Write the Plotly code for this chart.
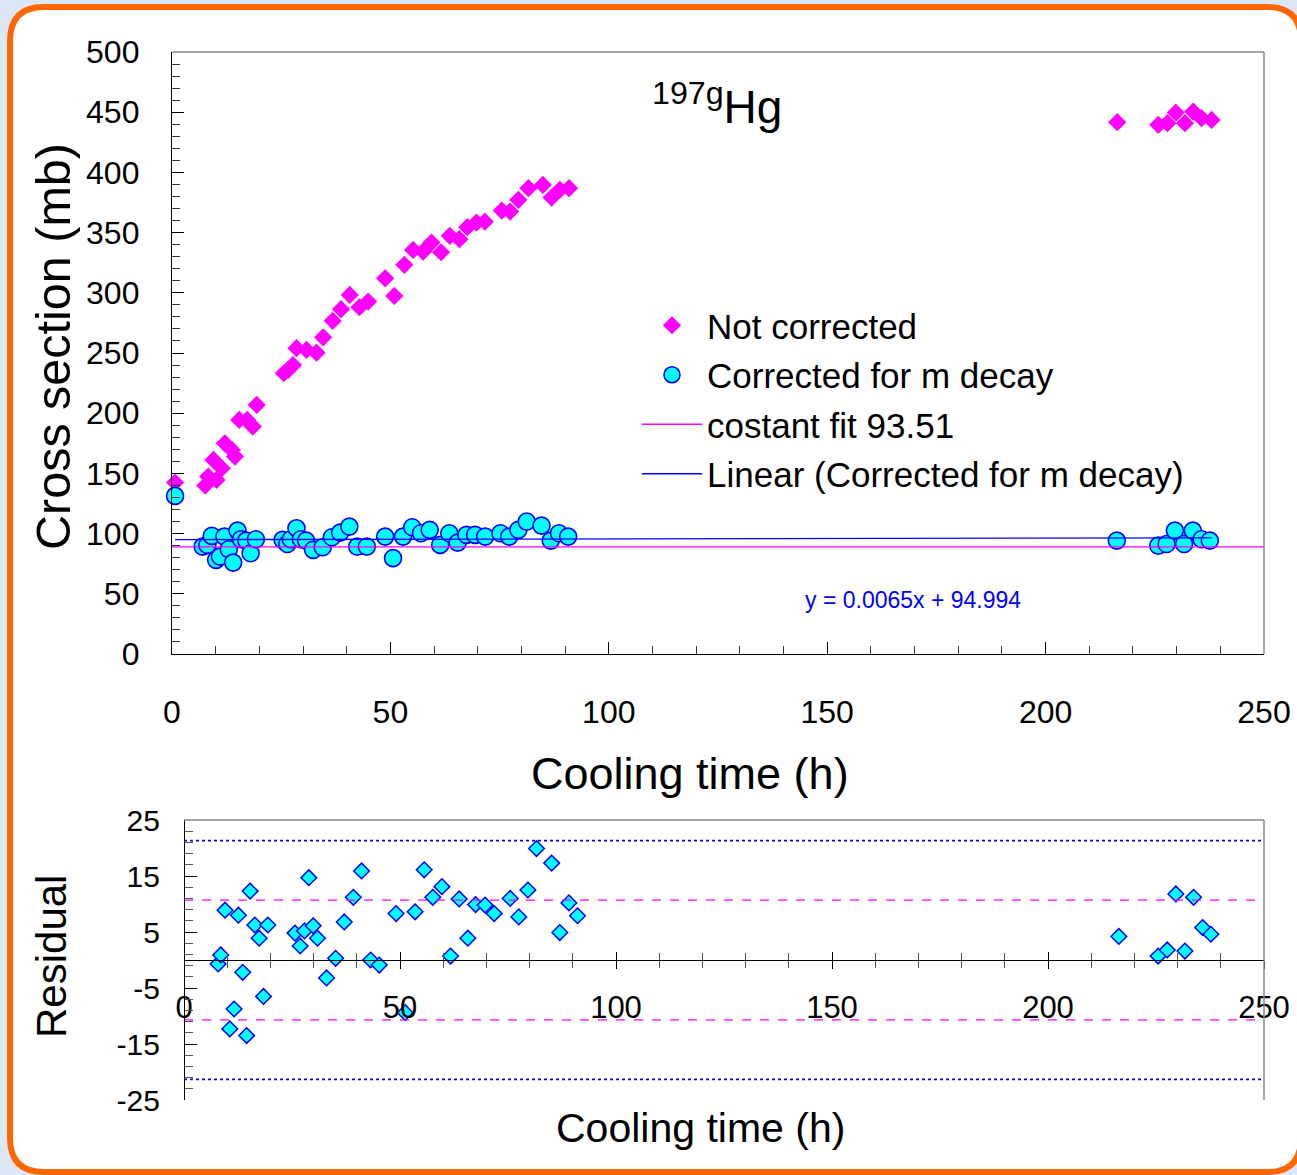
import plotly.graph_objects as go

W, H = 1297, 1175


def px(x):
    return x / W


def py(y):
    return 1 - y / H


# ---------------- data ----------------
nc_x = [0.7, 7.6, 8.3, 9.5, 10.2, 11.4, 12.1, 13.7, 14.4, 15.4, 17.2, 18.5, 19.4,
        25.6, 26.6, 27.7, 28.5, 30.8, 33.1, 34.6, 36.8, 38.7, 40.7, 42.9, 44.9,
        48.8, 50.9, 53.2, 55.2, 57.5, 59.4, 61.6, 63.6, 65.8, 67.6, 69.7, 71.6,
        75.5, 77.4, 79.3, 81.6, 84.9, 86.9, 88.8, 90.9,
        216.4, 225.8, 227.9, 229.8, 231.9, 233.8, 235.7, 238.0]
nc_y = [142.4, 139.9, 147.4, 161.2, 144.6, 154.3, 175.0, 169.5, 164.0, 194.4, 194.4, 188.9, 206.9,
        233.2, 236.0, 240.0, 254.0, 252.6, 250.3, 263.0, 276.7, 286.4, 298.2, 288.0, 292.7,
        312.0, 297.4, 323.2, 335.6, 334.2, 341.7, 333.7, 347.3, 344.5, 354.5, 358.3, 359.1,
        368.3, 367.5, 377.2, 386.9, 389.6, 379.1, 385.5, 386.9,
        441.7, 439.5, 440.9, 449.7, 440.9, 450.5, 445.0, 443.6]

cor_x = [0.7, 7.0, 8.1, 9.1, 10.1, 11.0, 12.0, 13.0, 14.0, 15.0, 15.8, 17.0, 18.0, 19.2,
         25.3, 26.4, 27.2, 28.5, 29.5, 30.7, 32.3, 34.5, 36.6, 38.5, 40.6, 42.4, 44.6,
         48.8, 50.6, 52.9, 55.0, 57.0, 59.0, 61.4, 63.5, 65.4, 67.4, 69.4, 71.7,
         75.2, 77.2, 79.3, 81.2, 84.6, 86.7, 88.6, 90.7,
         216.3, 225.8, 227.7, 229.6, 231.7, 233.7, 235.7, 237.6]
cor_y = [131.3, 89.2, 90.6, 98.1, 78.2, 80.9, 97.5, 87.0, 75.9, 102.5, 95.3, 94.2, 83.7, 95.3,
         94.8, 91.4, 95.3, 104.5, 95.3, 94.2, 86.5, 88.7, 97.0, 100.8, 105.8, 89.2, 89.2,
         97.5, 79.6, 97.5, 105.3, 100.3, 103.1, 90.6, 100.3, 92.5, 98.9, 98.9, 97.5,
         100.3, 97.5, 103.1, 110.0, 106.6, 94.2, 100.3, 97.5,
         94.2, 90.0, 91.4, 102.5, 91.4, 102.5, 95.3, 94.2]

const_x = [0, 250]
const_y = [89.0, 89.0]          # drawn position of "costant fit 93.51"
fit_x = [0.7, 238.0]
fit_y = [95.0, 96.5]            # y = 0.0065x + 94.994

res_x = [7.9, 8.5, 9.5, 10.6, 11.6, 12.6, 13.6, 14.5, 15.3, 16.4, 17.4, 18.4, 19.4,
         25.7, 26.9, 27.9, 28.9, 29.9, 30.9, 33.0, 35.1, 37.1, 39.2, 41.1, 43.2, 45.2,
         49.1, 51.2, 53.5, 55.6, 57.6, 59.7, 61.7, 63.7, 65.7, 67.5, 69.7, 71.8,
         75.5, 77.5, 79.6, 81.6, 85.1, 87.0, 89.1, 91.1,
         216.4, 225.5, 227.6, 229.6, 231.7, 233.7, 235.8, 237.7]
res_y = [-0.7, 0.9, 8.9, -12.3, -8.75, 8.0, -2.2, -13.5, 12.3, 6.25, 3.9, -6.5, 6.25,
         4.8, 2.5, 5.2, 14.7, 6.1, 3.9, -3.2, 0.3, 6.8, 11.2, 15.9, 0.0, -0.9,
         8.3, -9.4, 8.6, 16.1, 11.2, 13.1, 0.7, 10.9, 3.9, 9.9, 9.8, 8.3,
         11.0, 7.7, 12.5, 19.9, 17.3, 4.9, 10.2, 7.9,
         4.2, 0.7, 1.8, 11.8, 1.6, 11.2, 5.8, 4.6]

band_x = [0, 250]
sigma1 = 10.7
sigma2 = 21.3

x_ticks = [0, 50, 100, 150, 200, 250]
res_ticks = [-25, -15, -5, 5, 15, 25]
res_tick_text = ["-25", "-15", "-5", "5", "15", "25"]

FONT = "Arial, Liberation Sans, sans-serif"
MAG = "#FF00FF"
CYAN = "#00FFFF"
BLUE = "#0000FF"

fig = go.Figure()

# ---------------- top panel ----------------
fig.add_trace(go.Scatter(
    x=nc_x, y=nc_y, mode="markers", name="Not corrected",
    marker=dict(symbol="diamond", size=14, color=MAG, line=dict(width=0)),
    cliponaxis=False, legendgroup="a", xaxis="x", yaxis="y"))
fig.add_trace(go.Scatter(
    x=cor_x, y=cor_y, mode="markers", name="Corrected for m decay",
    marker=dict(symbol="circle", size=17, color=CYAN, line=dict(width=1.6, color=BLUE)),
    cliponaxis=False, legendgroup="b", xaxis="x", yaxis="y"))
fig.add_trace(go.Scatter(
    x=const_x, y=const_y, mode="lines", name="costant fit 93.51",
    line=dict(color=MAG, width=1.3), legendgroup="c", xaxis="x", yaxis="y"))
fig.add_trace(go.Scatter(
    x=fit_x, y=fit_y, mode="lines", name="Linear (Corrected for m decay)",
    line=dict(color=BLUE, width=1.3), legendgroup="d", xaxis="x", yaxis="y"))

# ---------------- residual panel ----------------
for sgn in (1, -1):
    fig.add_trace(go.Scatter(
        x=band_x, y=[sgn * sigma1] * 2, mode="lines", showlegend=False,
        line=dict(color=MAG, width=1.2, dash="dash"), xaxis="x3", yaxis="y2"))
    fig.add_trace(go.Scatter(
        x=band_x, y=[sgn * sigma2] * 2, mode="lines", showlegend=False,
        line=dict(color=BLUE, width=1.8, dash="dot"), xaxis="x3", yaxis="y2"))
fig.add_trace(go.Scatter(
    x=res_x, y=res_y, mode="markers", showlegend=False,
    marker=dict(symbol="diamond", size=12, color=CYAN, line=dict(width=1.5, color=BLUE)),
    cliponaxis=False, xaxis="x2", yaxis="y2"))

axis_common = dict(showgrid=False, zeroline=False, showline=True, linecolor="black",
                   linewidth=1.3, tickcolor="black", tickwidth=1.3, automargin=False,
                   tickfont=dict(family=FONT, size=32, color="black"))

fig.update_layout(
    width=W, height=H,
    margin=dict(l=0, r=0, t=0, b=0, pad=0, autoexpand=False),
    paper_bgcolor="#dbe7f4",
    plot_bgcolor="rgba(0,0,0,0)",
    font=dict(family=FONT, color="black"),
    xaxis=dict(domain=[px(172), px(1264)], range=[0, 250], anchor="y",
               tickvals=x_ticks, ticks="inside", ticklen=12,
               minor=dict(dtick=10, tick0=0, ticks="inside", ticklen=8, tickcolor="#333",
                          tickwidth=1.2),
               ticklabelstandoff=29, **axis_common),
    yaxis=dict(domain=[py(654), py(52)], range=[0, 500], anchor="x",
               dtick=50, tick0=0, ticks="inside", ticklen=12,
               minor=dict(dtick=10, tick0=0, ticks="inside", ticklen=8, tickcolor="#333",
                          tickwidth=1.2),
               ticklabelstandoff=25, **axis_common),
    xaxis2=dict(domain=[px(184), px(1264)], range=[0, 250], anchor="free",
                position=py(960), tickvals=x_ticks, ticks="outside", ticklen=8,
                minor=dict(dtick=10, tick0=0, ticks="outside", ticklen=7, tickcolor="#555",
                           tickwidth=1.2),
                ticklabelstandoff=12,
                **{**axis_common, "tickfont": dict(family=FONT, size=31, color="black")}),
    xaxis3=dict(domain=[px(184), px(1264)], range=[0, 250], anchor="free",
                overlaying="x2", position=py(960), tickvals=x_ticks, ticks="inside",
                ticklen=8, showticklabels=False, showline=False, showgrid=False,
                zeroline=False, tickcolor="black", tickwidth=1.3, automargin=False,
                minor=dict(dtick=10, tick0=0, ticks="inside", ticklen=7, tickcolor="#555",
                           tickwidth=1.2)),
    yaxis2=dict(domain=[py(1100), py(820)], range=[-25, 25], anchor="free",
                position=px(184), tickvals=res_ticks, ticktext=res_tick_text,
                ticks="inside", ticklen=12,
                minor=dict(dtick=2, tick0=-25, ticks="inside", ticklen=8, tickcolor="#555",
                           tickwidth=1.2),
                ticklabelstandoff=18,
                **{**axis_common, "tickfont": dict(family=FONT, size=30, color="black")}),
    legend=dict(x=px(637), y=py(296), xanchor="left", yanchor="top",
                font=dict(family=FONT, size=35, color="black"),
                bgcolor="rgba(0,0,0,0)", itemwidth=60, traceorder="grouped",
                tracegroupgap=1),
)

# ---------------- frame / background ----------------
L, T, R, B, r = 10, 7, 1301, 1172, 34
path = (f"M {px(L + r)} {py(T)} L {px(R - r)} {py(T)} Q {px(R)} {py(T)} {px(R)} {py(T + r)} "
        f"L {px(R)} {py(B - r)} Q {px(R)} {py(B)} {px(R - r)} {py(B)} "
        f"L {px(L + r)} {py(B)} Q {px(L)} {py(B)} {px(L)} {py(B - r)} "
        f"L {px(L)} {py(T + r)} Q {px(L)} {py(T)} {px(L + r)} {py(T)} Z")
shapes = [
    dict(type="path", path=path, xref="paper", yref="paper", layer="below",
         fillcolor="white", line=dict(color="#FF6600", width=6)),
    dict(type="line", xref="paper", yref="paper", x0=px(172), x1=px(1264), y0=py(52), y1=py(52),
         line=dict(color="#888888", width=1.5)),
    dict(type="line", xref="paper", yref="paper", x0=px(1264), x1=px(1264), y0=py(52), y1=py(654),
         line=dict(color="#888888", width=1.5)),
    dict(type="line", xref="paper", yref="paper", x0=px(184), x1=px(1264), y0=py(820), y1=py(820),
         line=dict(color="#888888", width=1.5)),
    dict(type="line", xref="paper", yref="paper", x0=px(1264), x1=px(1264), y0=py(820), y1=py(1100),
         line=dict(color="#888888", width=1.5)),
]
fig.update_layout(shapes=shapes)


def ann(text, x, y, size, color="black", angle=0):
    return dict(text=text, x=px(x), y=py(y), xref="paper", yref="paper",
                xanchor="center", yanchor="middle", showarrow=False, textangle=angle,
                font=dict(family=FONT, size=size, color=color))


annotations = [
    ann("<sup>197g</sup>Hg", 717, 104, 46),
    ann("y = 0.0065x + 94.994", 913, 600, 23, BLUE),
    ann("Cross section (mb)", 53, 347, 48.5, angle=-90),
    ann("Cooling time (h)", 690, 773, 45),
    ann("Residual", 51, 957, 42, angle=-90),
    ann("Cooling time (h)", 700, 1128, 41),
]
fig.update_layout(annotations=annotations)

fig.write_html(
    "out.html",
    post_script="document.body.style.margin='0';",
)
